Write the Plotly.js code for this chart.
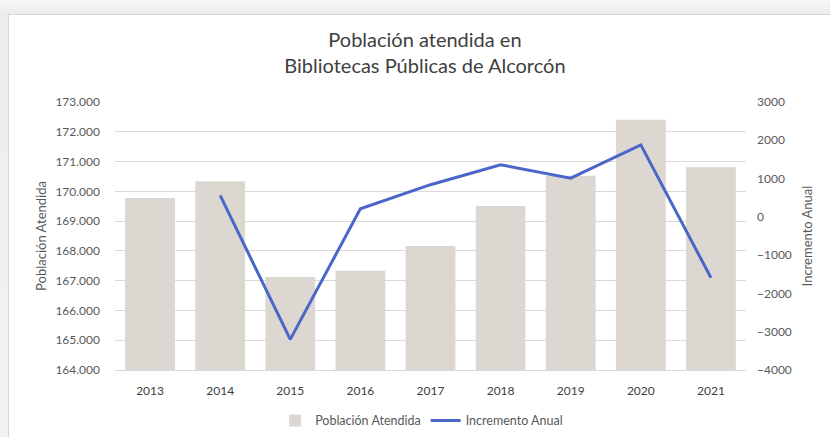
<!DOCTYPE html>
<html>
<head>
<meta charset="utf-8">
<script src="https://cdn.plot.ly/plotly-3.0.1.min.js"></script>
<style>
  html, body { margin: 0; padding: 0; }
  body {
    width: 830px; height: 437px; overflow: hidden; position: relative;
    background: linear-gradient(to bottom, #f7f7f7 0px, #ececec 14px, #f3f3f3 100%);
  }
  #card {
    position: absolute; left: 8px; top: 14px; width: 830px; height: 430px;
    background: #ffffff; border-left: 1px solid #d6d6d6; border-top: 1px solid #d6d6d6;
  }
  #chart { position: absolute; left: 0; top: 0; width: 830px; height: 437px; }
</style>
</head>
<body>
<div id="card"></div>
<div id="chart"></div>
<script>
// Años de la serie
const years = ['2013', '2014', '2015', '2016', '2017', '2018', '2019', '2020', '2021'];

// Población atendida (eje izquierdo)
const poblacion = [169780, 170340, 167120, 167330, 168160, 169510, 170520, 172400, 170810];

// Incremento anual respecto al año anterior (eje derecho)
const incrementoYears = ['2014', '2015', '2016', '2017', '2018', '2019', '2020', '2021'];
const incremento = [560, -3200, 210, 840, 1360, 1010, 1880, -1590];

// Marcas de los ejes
const leftTicks = [164000, 165000, 166000, 167000, 168000, 169000, 170000, 171000, 172000, 173000];
const leftTickText = leftTicks.map(v => (v / 1000).toFixed(3));
const rightTicks = [-4000, -3000, -2000, -1000, 0, 1000, 2000, 3000];

const FONT = 'Lato, "Open Sans", sans-serif';
const GREY = '#595959';

const traces = [
  {
    type: 'bar',
    name: 'Población Atendida',
    x: years,
    y: poblacion,
    marker: { color: '#ddd7d2' },
    hoverinfo: 'x+y'
  },
  {
    type: 'scatter',
    mode: 'lines',
    name: 'Incremento Anual',
    x: incrementoYears,
    y: incremento,
    yaxis: 'y2',
    line: { color: '#4a66c8', width: 3 }
  }
];

const layout = {
  width: 830,
  height: 437,
  paper_bgcolor: 'rgba(0,0,0,0)',
  plot_bgcolor: 'rgba(0,0,0,0)',
  margin: { l: 115, r: 84, t: 102, b: 67 },
  font: { family: FONT, color: GREY, size: 12 },
  title: {
    text: 'Población atendida en<br>Bibliotecas Públicas de Alcorcón',
    font: { family: FONT, size: 20, color: '#404040' },
    x: 0.512, xanchor: 'center',
    y: 0.892, yanchor: 'top'
  },
  bargap: 0.29,
  showlegend: true,
  legend: {
    orientation: 'h',
    xref: 'container', yref: 'container',
    x: 0.508, xanchor: 'center',
    y: 0.037, yanchor: 'middle',
    font: { family: FONT, size: 12.5, color: GREY },
    traceorder: 'normal',
    itemwidth: 30
  },
  xaxis: {
    type: 'category',
    tickfont: { family: FONT, size: 12, color: '#404040' },
    showline: true,
    linecolor: '#d9d9d9',
    linewidth: 1,
    ticks: '',
    ticklabelstandoff: 10,
    showgrid: false,
    fixedrange: true
  },
  yaxis: {
    range: [164000, 173000],
    tickvals: leftTicks,
    ticktext: leftTickText,
    tickfont: { family: FONT, size: 12, color: GREY },
    showgrid: true,
    gridcolor: '#d9d9d9',
    gridwidth: 1,
    zeroline: false,
    ticks: '',
    ticklabelstandoff: 14,
    title: {
      text: 'Población Atendida',
      font: { family: FONT, size: 13, color: GREY },
      standoff: 5
    },
    fixedrange: true
  },
  yaxis2: {
    overlaying: 'y',
    side: 'right',
    range: [-4000, 3000],
    tickvals: rightTicks,
    tickfont: { family: FONT, size: 12, color: GREY },
    showgrid: false,
    zeroline: false,
    ticks: '',
    ticklabelstandoff: 10,
    title: {
      text: 'Incremento Anual',
      font: { family: FONT, size: 13, color: GREY },
      standoff: 12
    },
    fixedrange: true
  }
};

Plotly.newPlot('chart', traces, layout, { displayModeBar: false, staticPlot: true });
</script>
</body>
</html>
